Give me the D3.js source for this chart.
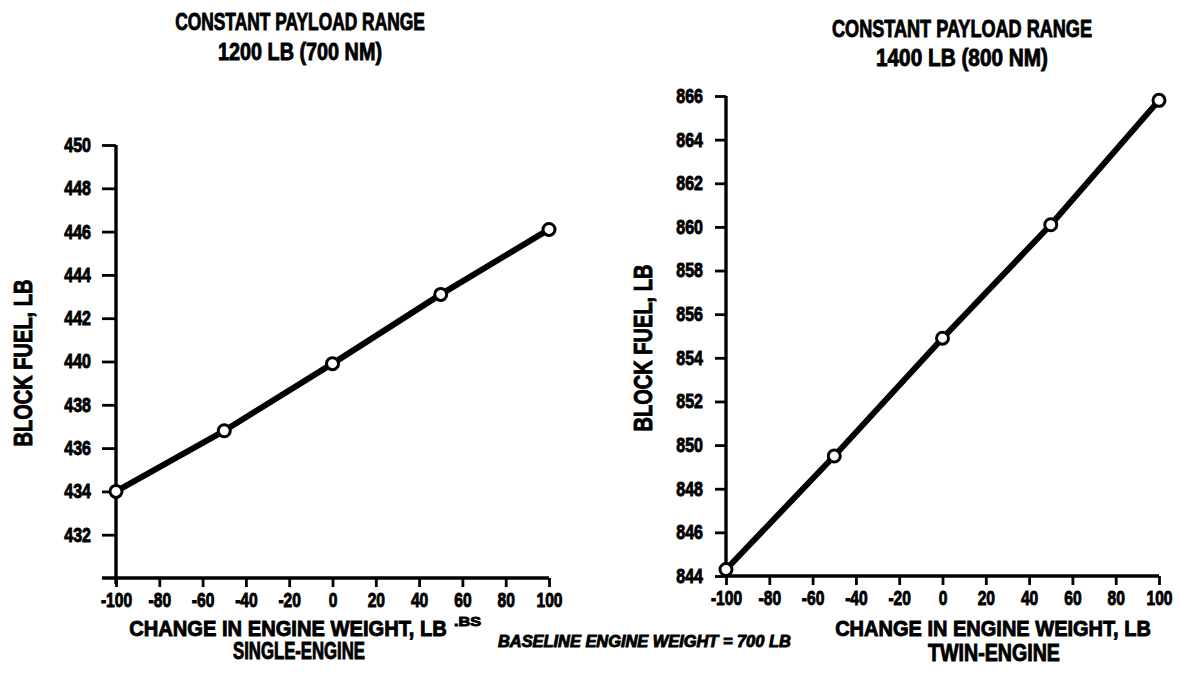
<!DOCTYPE html>
<html>
<head>
<meta charset="utf-8">
<script src="https://cdn.jsdelivr.net/npm/d3@7"></script>
<style>
  html, body { margin: 0; padding: 0; background: #fff; }
  svg { display: block; }
  text { font-family: "Liberation Sans", Arial, sans-serif; font-weight: bold; fill: #000; }
  .heavy { stroke: #000; stroke-width: 0.9px; }
</style>
</head>
<body>
<svg id="chart" width="1179" height="673"></svg>
<script>
// ---- data ----
const engineDelta = [-100, -50, 0, 50, 100];
const singleEngineFuel = [434.0, 436.8, 439.9, 443.1, 446.1];
const twinEngineFuel = [844.3, 849.5, 854.9, 860.1, 865.8];
const xTicks = [-100, -80, -60, -40, -20, 0, 20, 40, 60, 80, 100];
const singleYTicks = [432, 434, 436, 438, 440, 442, 444, 446, 448, 450];
const twinYTicks = [844, 846, 848, 850, 852, 854, 856, 858, 860, 862, 864, 866];
const singleTitle = ["CONSTANT PAYLOAD RANGE", "1200 LB (700 NM)"];
const twinTitle = ["CONSTANT PAYLOAD RANGE", "1400 LB (800 NM)"];
const yLabel = "BLOCK FUEL, LB";
const xLabel = "CHANGE IN ENGINE WEIGHT, LB";
const singleSub = "SINGLE-ENGINE";
const twinSub = "TWIN-ENGINE";
const baselineNote = "BASELINE ENGINE WEIGHT = 700 LB";

const svg = d3.select("#chart");

// narrow lettering: draw text at an anchor, then compress horizontally to a target width
function label(parent, str, opt) {
  const g = parent.append("g")
    .attr("transform", `translate(${opt.x},${opt.y})` + (opt.rotate ? ` rotate(${opt.rotate})` : ""));
  const t = g.append("text")
    .attr("class", "heavy")
    .attr("text-anchor", opt.anchor || "middle")
    .style("font-size", opt.size + "px")
    .style("font-style", opt.italic ? "italic" : "normal")
    .text(str);
  const w = t.node().getComputedTextLength();
  t.attr("transform", `scale(${(opt.width / w).toFixed(4)},1)`);
  return t;
}
// compress tick labels around their own anchor point
function squeezeTicks(sel, f) {
  sel.each(function() {
    const el = d3.select(this);
    const x = +el.attr("x") || 0;
    const y = +el.attr("y") || 0;
    el.attr("class", "heavy")
      .attr("transform", `translate(${x},${y}) scale(${f},1) translate(${-x},${-y})`);
  });
}

function panel(cfg) {
  const x = d3.scaleLinear().domain([-100, 100]).range(cfg.xRange);
  const y = d3.scaleLinear().domain(cfg.yDomain).range(cfg.yRange);
  const g = svg.append("g");

  // x axis
  const xa = g.append("g")
    .attr("transform", `translate(0,${y(cfg.yDomain[0])})`)
    .call(d3.axisBottom(x).tickValues(xTicks).tickFormat(d => String(d))
      .tickSize(9).tickSizeOuter(0).tickPadding(6));
  xa.select(".domain").attr("d", `M${x(-100) - cfg.xExt},0H${x(100)}`)
    .attr("stroke", "#000").attr("stroke-width", 3.4);
  xa.selectAll(".tick line").attr("stroke", "#000").attr("stroke-width", 2.8);
  const xt = xa.selectAll(".tick text").style("font-size", "20px").attr("fill", "#000");
  squeezeTicks(xt, 0.78);

  // y axis
  const ya = g.append("g")
    .attr("transform", `translate(${x(-100)},0)`)
    .call(d3.axisLeft(y).tickValues(cfg.yTicks).tickFormat(d => String(d))
      .tickSize(cfg.tickLen).tickSizeOuter(0).tickPadding(cfg.tickPad));
  ya.select(".domain").attr("d", `M0,${y(cfg.yDomain[0]) + cfg.yExt}V${y(cfg.yDomain[1])}`)
    .attr("stroke", "#000").attr("stroke-width", 3.4);
  ya.selectAll(".tick line").attr("stroke", "#000").attr("stroke-width", 2.8);
  const yt = ya.selectAll(".tick text").style("font-size", "20px").attr("fill", "#000");
  squeezeTicks(yt, 0.8);

  // line
  const pts = engineDelta.map((d, i) => [d, cfg.values[i]]);
  g.append("path")
    .datum(pts)
    .attr("fill", "none")
    .attr("stroke", "#000")
    .attr("stroke-width", 6)
    .attr("stroke-linejoin", "round")
    .attr("d", d3.line().x(d => x(d[0])).y(d => y(d[1])));

  g.selectAll("circle.pt")
    .data(pts)
    .join("circle")
    .attr("class", "pt")
    .attr("cx", d => x(d[0]))
    .attr("cy", d => y(d[1]))
    .attr("r", 6)
    .attr("fill", "#fff")
    .attr("stroke", "#000")
    .attr("stroke-width", 3);

  // titles
  label(g, cfg.title[0], {x: cfg.titleX, y: cfg.titleY[0], size: 24, width: cfg.titleW[0]});
  label(g, cfg.title[1], {x: cfg.titleX, y: cfg.titleY[1], size: 24, width: cfg.titleW[1]});

  // axis titles
  label(g, yLabel, {x: cfg.yLabelX, y: cfg.yLabelY, size: 25, width: 167, rotate: -90});
  label(g, xLabel, {x: cfg.xLabelX, y: 636, size: 22, width: cfg.xLabelW});
  label(g, cfg.sub, {x: cfg.subX, y: cfg.subY, size: 23, width: cfg.subW});
  return {x, y};
}

panel({
  xRange: [116, 549], yDomain: [430, 450], yRange: [578, 145],
  yTicks: singleYTicks, values: singleEngineFuel, tickLen: 14, tickPad: 11, xExt: 14, yExt: 6,
  title: singleTitle, titleX: 300, titleY: [30, 60], titleW: [250, 164],
  yLabelX: 32, yLabelY: 363,
  xLabelX: 288, xLabelW: 318, sub: singleSub, subX: 299, subY: 659, subW: 132
});

panel({
  xRange: [726, 1159], yDomain: [844, 866], yRange: [576, 96],
  yTicks: twinYTicks, values: twinEngineFuel, tickLen: 11, tickPad: 12, xExt: 0, yExt: 2,
  title: twinTitle, titleX: 962, titleY: [37, 66], titleW: [260, 172],
  yLabelX: 652, yLabelY: 348,
  xLabelX: 993, xLabelW: 316, sub: twinSub, subX: 994, subY: 661, subW: 132
});

label(svg, ".BS", {x: 454, y: 626, size: 13, width: 27, anchor: "start"});
label(svg, baselineNote, {x: 498, y: 647, size: 16, width: 293, anchor: "start", italic: true});
</script>
</body>
</html>
